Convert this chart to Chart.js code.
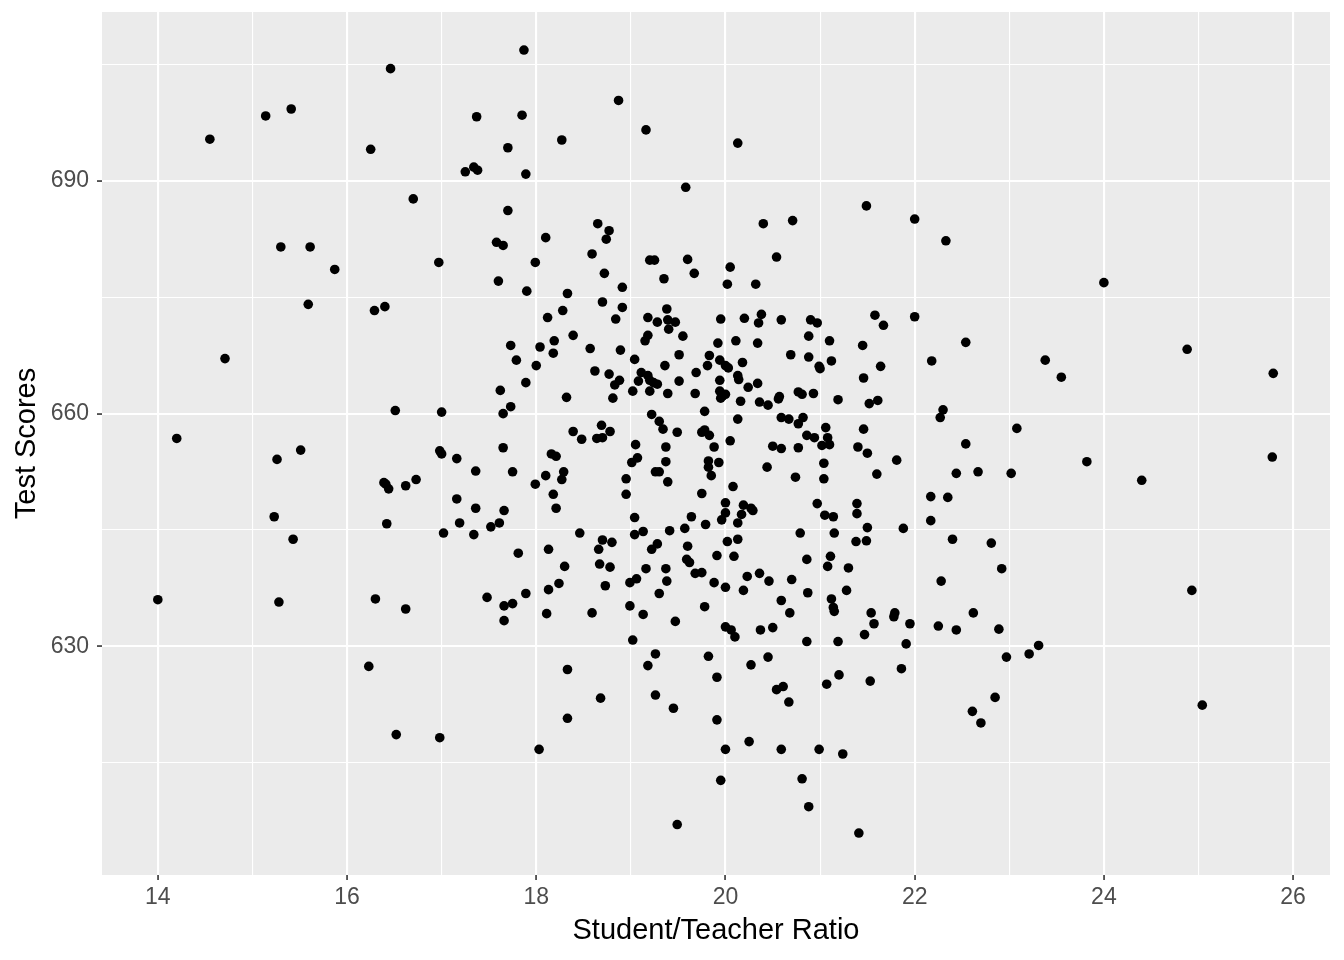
<!DOCTYPE html>
<html>
<head>
<meta charset="utf-8">
<script src="https://cdn.jsdelivr.net/npm/chart.js@4.4.1/dist/chart.umd.min.js"></script>
<style>
  html, body { margin: 0; padding: 0; background: #fff; }
  #wrap { width: 1344px; height: 960px; }
</style>
</head>
<body>
<div id="wrap"><canvas id="scatter" width="1344" height="960"></canvas></div>
<script>
/* student/teacher ratio (x) and test score (y), same order */
const studentTeacherRatio = [
  // left side, STR < 17
  14.00, 14.20, 14.55, 14.71, 15.14, 15.41, 15.30, 15.61, 15.59, 15.87,
  15.26, 15.51, 15.23, 15.43, 15.28, 16.25, 16.46, 16.29, 16.40, 16.70,
  16.51, 16.41, 16.44, 16.39, 16.62, 16.73, 16.42, 16.30, 16.23, 16.52,
  16.62,
  // top band
  17.87, 17.37, 17.85, 17.70, 18.27, 17.34, 17.38, 17.25, 17.89, 17.70,
  18.65, 18.77, 18.87, 19.16, 20.13, 19.58, 20.40, 20.71, 21.49, 22.00,
  // 17-19, upper middle
  17.58, 17.65, 18.10, 18.74, 16.97, 17.99, 18.59, 18.72, 17.60, 17.90,
  18.33, 18.70, 18.28, 18.12, 18.84, 18.39, 17.73, 18.04, 18.19, 18.57,
  17.79, 18.18, 18.00, 18.62, 18.77, 18.83, 17.89, 17.62, 18.32, 18.81,
  17.73, 17.65, 17.00, 18.39, 18.48, 18.69, 18.78, 18.64, 18.70, 16.98,
  17.00, 17.65,
  // 19-21, upper middle
  19.20, 19.25, 19.60, 20.54, 20.05, 19.35, 19.67, 20.02, 20.32, 18.91,
  18.91, 19.38, 19.18, 19.28, 19.39, 19.47, 19.40, 19.95, 20.20, 20.38,
  20.35, 20.59, 20.90, 19.18, 19.15, 19.55, 19.92, 20.11, 20.34, 20.88,
  18.89, 19.04, 19.51, 19.36, 19.83, 19.81, 19.94, 20.00, 20.03, 20.18,
  20.69, 20.88, 19.69, 19.11, 19.18, 19.20, 18.88, 19.08, 19.28, 19.24,
  19.51, 19.94, 20.13, 20.14, 20.24, 20.34, 19.02, 19.20, 19.39, 19.68,
  19.94, 19.97, 19.95, 20.00, 20.16, 20.36, 20.45, 20.56, 20.57, 20.77,
  20.81, 19.22, 19.30, 19.34, 19.49, 19.78, 19.75, 19.78, 19.83, 20.13,
  20.05, 20.59, 20.67, 20.82, 20.77, 20.86, 19.05, 19.37, 19.88, 20.50,
  20.59, 20.77,
  // 21-23, upper middle
  22.33, 21.58, 21.67, 22.00, 20.97, 21.10, 21.45, 22.54, 21.12, 20.99,
  21.00, 21.64, 22.18, 21.46, 20.93, 21.19, 21.52, 21.61, 22.30, 22.27,
  21.06, 21.46, 20.94, 21.08, 21.02, 21.10, 21.40, 22.54,
  // 17-19, lower middle
  17.16, 17.36, 17.75, 18.16, 18.21, 18.10, 18.29, 18.27, 17.99, 17.16,
  17.36, 17.66, 18.18, 18.21, 17.19, 17.52, 17.61, 17.02, 17.34, 18.46,
  18.70, 18.80, 18.66, 18.67, 18.78, 18.13, 17.81, 18.30, 18.24, 18.13,
  18.73, 17.89, 17.48, 17.66, 17.75, 17.66, 18.11, 18.59,
  // 19-21, lower middle
  19.01, 19.07, 19.37, 19.26, 19.30, 18.95, 19.39, 19.82, 19.93, 19.82,
  19.85, 18.95, 19.75, 20.08, 20.44, 20.74, 20.00, 20.19, 20.27, 20.29,
  20.00, 20.17, 19.96, 20.13, 19.04, 19.64, 19.79, 19.13, 19.04, 19.41,
  19.57, 20.02, 20.13, 20.79, 19.60, 19.22, 19.28, 19.91, 20.09, 20.86,
  19.59, 19.62, 19.16, 19.37, 19.38, 19.68, 19.75, 19.88, 20.00, 20.23,
  20.36, 20.46, 20.19, 20.70, 20.87, 18.99, 19.06, 19.30, 18.99, 19.13,
  19.47, 19.78, 20.59, 20.68, 20.00, 20.06, 20.10, 20.37, 20.50, 19.02,
  20.86, 19.26, 19.82, 20.45,
  // 21-23, lower middle
  21.50, 21.81, 21.04, 21.04, 21.60, 22.44, 22.67, 20.97, 21.39, 21.39,
  21.05, 21.14, 22.17, 22.35, 22.17, 21.50, 21.88, 21.15, 21.38, 21.49,
  22.40, 22.81, 21.11, 21.08, 21.30, 22.92, 22.28, 21.28, 21.12, 21.14,
  21.15, 21.54, 21.57, 21.47, 21.79, 21.78, 21.95, 21.91, 21.19, 22.25,
  22.44, 22.62, 22.89, 22.97,
  // bottom band
  18.33, 18.68, 18.33, 16.98, 18.03,
  19.18, 19.91, 20.27, 20.54, 20.61, 20.67, 19.26, 19.45, 19.91, 20.25,
  20.00, 20.59, 19.95, 20.81, 20.88, 19.49,
  21.20, 21.07, 21.53, 21.86, 22.85, 22.61, 22.70, 20.99, 21.24, 21.41,
  // right side, STR > 23
  24.00, 23.38, 23.55, 23.08, 23.02, 23.82, 24.40, 24.88, 25.79, 25.78,
  24.93, 25.04, 23.21, 23.31
];

const testScores = [
  // left side
  636.0, 656.8, 695.4, 667.1, 698.4, 699.3, 681.5, 681.5, 674.1, 678.6,
  654.1, 655.3, 646.7, 643.8, 635.7, 694.1, 704.5, 673.3, 673.8, 687.7,
  660.4, 650.9, 650.3, 651.1, 650.7, 651.5, 645.8, 636.1, 627.4, 618.6,
  634.8,
  // top band
  706.9, 698.3, 698.5, 694.3, 695.3, 691.8, 691.4, 691.2, 690.9, 686.2,
  684.5, 683.6, 700.4, 696.6, 694.9, 689.2, 684.5, 684.9, 686.8, 685.1,
  // 17-19, upper middle
  682.1, 681.7, 682.7, 682.5, 679.5, 679.5, 680.6, 678.1, 677.1, 675.8,
  675.5, 674.4, 673.3, 672.4, 672.2, 670.1, 668.8, 668.6, 669.4, 668.4,
  666.9, 667.8, 666.2, 665.5, 665.1, 663.7, 664.0, 663.0, 662.1, 662.0,
  660.9, 660.0, 660.2, 657.7, 656.7, 658.5, 657.7, 656.8, 656.9, 655.2,
  654.8, 655.6,
  // 19-21, upper middle
  679.8, 679.8, 679.9, 680.2, 678.9, 677.4, 678.1, 676.7, 676.7, 676.3,
  673.7, 673.5, 672.4, 671.8, 672.1, 671.8, 670.9, 672.2, 672.3, 672.8,
  671.7, 672.1, 672.1, 670.1, 669.4, 670.0, 669.1, 669.4, 669.1, 670.0,
  668.2, 667.0, 667.6, 666.2, 667.5, 666.2, 666.9, 666.2, 665.9, 666.6,
  667.6, 667.3, 665.3, 665.3, 664.9, 664.3, 664.3, 664.2, 663.8, 664.0,
  664.2, 664.3, 664.9, 664.4, 663.4, 663.9, 662.9, 662.9, 662.6, 662.6,
  662.9, 662.3, 662.0, 662.5, 661.6, 661.5, 661.1, 661.9, 662.2, 662.8,
  662.5, 659.9, 659.0, 658.0, 657.6, 660.3, 657.6, 657.9, 657.2, 659.3,
  656.5, 659.5, 659.3, 659.5, 658.7, 657.2, 656.0, 655.7, 655.7, 655.8,
  655.5, 655.6,
  // 21-23, upper middle
  682.3, 672.7, 671.4, 672.5, 671.7, 669.4, 668.8, 669.2, 666.8, 666.1,
  665.8, 666.1, 666.8, 664.6, 662.6, 661.8, 661.3, 661.7, 660.5, 659.5,
  658.2, 658.0, 656.9, 656.9, 655.9, 656.0, 655.7, 656.1,
  // 17-19, lower middle
  654.2, 652.6, 652.5, 654.8, 654.5, 652.0, 652.5, 651.5, 650.9, 649.0,
  647.8, 647.5, 649.6, 647.8, 645.9, 645.4, 645.9, 644.6, 644.4, 644.6,
  643.7, 643.4, 642.5, 640.6, 640.2, 642.5, 642.0, 640.3, 638.1, 637.3,
  637.8, 636.8, 636.3, 635.2, 635.5, 633.3, 634.2, 634.3,
  // 19-21, lower middle
  653.7, 654.3, 653.8, 652.5, 652.5, 651.6, 651.2, 653.9, 653.7, 653.1,
  652.0, 649.6, 649.7, 650.6, 653.1, 651.8, 648.5, 648.2, 647.8, 647.5,
  647.2, 647.0, 646.3, 645.9, 646.6, 646.7, 645.7, 644.8, 644.4, 644.9,
  645.2, 643.5, 643.8, 644.6, 642.9, 642.5, 643.2, 641.7, 641.6, 641.2,
  641.2, 640.8, 640.0, 640.0, 638.4, 639.4, 639.5, 638.2, 637.6, 639.0,
  639.4, 638.4, 637.2, 638.6, 636.9, 638.2, 638.7, 636.8, 635.2, 634.1,
  633.2, 635.1, 635.9, 634.3, 632.5, 632.1, 631.2, 632.1, 632.4, 630.8,
  630.6, 629.0, 628.7, 628.6,
  // 21-23, lower middle
  654.9, 654.0, 653.6, 651.6, 652.2, 652.3, 652.5, 648.4, 648.4, 647.1,
  646.9, 646.7, 649.3, 649.2, 646.2, 645.3, 645.2, 644.6, 643.5, 643.6,
  643.8, 643.3, 641.6, 640.3, 640.1, 640.0, 638.4, 637.2, 636.1, 635.0,
  634.5, 634.3, 632.9, 631.5, 634.3, 633.8, 632.9, 630.3, 630.6, 632.6,
  632.1, 634.3, 632.2, 628.6,
  // bottom band
  627.0, 623.3, 620.7, 618.2, 616.7,
  627.5, 626.0, 627.6, 624.4, 624.8, 622.8, 623.7, 622.0, 620.5, 617.7,
  616.7, 616.7, 612.7, 612.9, 609.3, 607.0,
  626.3, 625.1, 625.5, 627.1, 623.4, 621.6, 620.1, 616.7, 616.1, 605.9,
  // right side
  676.9, 666.9, 664.7, 658.1, 652.3, 653.8, 651.4, 668.3, 665.2, 654.4,
  637.2, 622.4, 629.0, 630.1
];

const xTicks = [14, 16, 18, 20, 22, 24, 26];
const xMinorTicks = [15, 17, 19, 21, 23, 25];
const yTicks = [630, 660, 690];
const yMinorTicks = [615, 645, 675, 705];
const xRange = [13.41, 26.39];
const yRange = [600.49, 711.81];

const points = [];
const n = Math.min(studentTeacherRatio.length, testScores.length);
for (let i = 0; i < n; i++) points.push({ x: studentTeacherRatio[i], y: testScores[i] });

/* grey ggplot panel behind the grid */
const panelBackground = {
  id: 'panelBackground',
  beforeDraw(chart) {
    const { ctx, chartArea: a } = chart;
    ctx.save();
    ctx.fillStyle = '#FFFFFF';
    ctx.fillRect(0, 0, chart.width, chart.height);
    ctx.fillStyle = '#EBEBEB';
    ctx.fillRect(a.left, a.top, a.right - a.left, a.bottom - a.top);
    ctx.restore();
  }
};

const FONT = "'Liberation Sans', Arial, sans-serif";

function gridFor(major) {
  const isMajor = (ctx) => ctx.tick && major.includes(ctx.tick.value);
  return {
    color: '#FFFFFF',
    lineWidth: (ctx) => isMajor(ctx) ? 2.1 : 1.1,
    drawTicks: true,
    tickLength: 5,
    tickWidth: 1.6,
    tickColor: (ctx) => isMajor(ctx) ? '#333333' : 'rgba(0,0,0,0)'
  };
}

// fixed axis boxes, no label overhang padding, so the panel sits where ggplot put it
function fixBox(size, horizontal) {
  return (s) => {
    if (horizontal) s.height = size; else s.width = size;
    s.paddingTop = 0; s.paddingBottom = 0; s.paddingLeft = 0; s.paddingRight = 0;
  };
}

new Chart(document.getElementById('scatter'), {
  type: 'scatter',
  data: {
    datasets: [{
      data: points,
      backgroundColor: '#000000',
      borderWidth: 0,
      pointRadius: 4.8,
      pointHoverRadius: 4.8
    }]
  },
  plugins: [panelBackground],
  options: {
    responsive: false,
    devicePixelRatio: 1,
    animation: false,
    events: [],
    layout: { padding: { top: 12, right: 14, left: 0, bottom: 0 } },
    plugins: { legend: { display: false }, tooltip: { enabled: false } },
    scales: {
      x: {
        type: 'linear',
        min: xRange[0],
        max: xRange[1],
        afterBuildTicks: (s) => { s.ticks = [...xTicks, ...xMinorTicks].sort((a, b) => a - b).map(v => ({ value: v })); },
        afterFit: fixBox(85, true),
        border: { display: false },
        grid: gridFor(xTicks),
        ticks: {
          autoSkip: false,
          maxRotation: 0,
          padding: 4,
          color: '#4D4D4D',
          font: { family: FONT, size: 23 },
          callback: (v) => xTicks.includes(v) ? String(v) : ''
        },
        title: {
          display: true,
          text: 'Student/Teacher Ratio',
          color: '#000000',
          font: { family: FONT, size: 29 },
          padding: { top: 0, bottom: 12 }
        }
      },
      y: {
        type: 'linear',
        min: yRange[0],
        max: yRange[1],
        afterBuildTicks: (s) => { s.ticks = [...yTicks, ...yMinorTicks].sort((a, b) => a - b).map(v => ({ value: v })); },
        afterFit: fixBox(102, false),
        border: { display: false },
        grid: gridFor(yTicks),
        ticks: {
          autoSkip: false,
          padding: 8,
          color: '#4D4D4D',
          font: { family: FONT, size: 23 },
          callback: (v) => yTicks.includes(v) ? String(v) : ''
        },
        title: {
          display: true,
          text: 'Test Scores',
          color: '#000000',
          font: { family: FONT, size: 29 },
          padding: { top: 10, bottom: 0 }
        }
      }
    }
  }
});
</script>
</body>
</html>
